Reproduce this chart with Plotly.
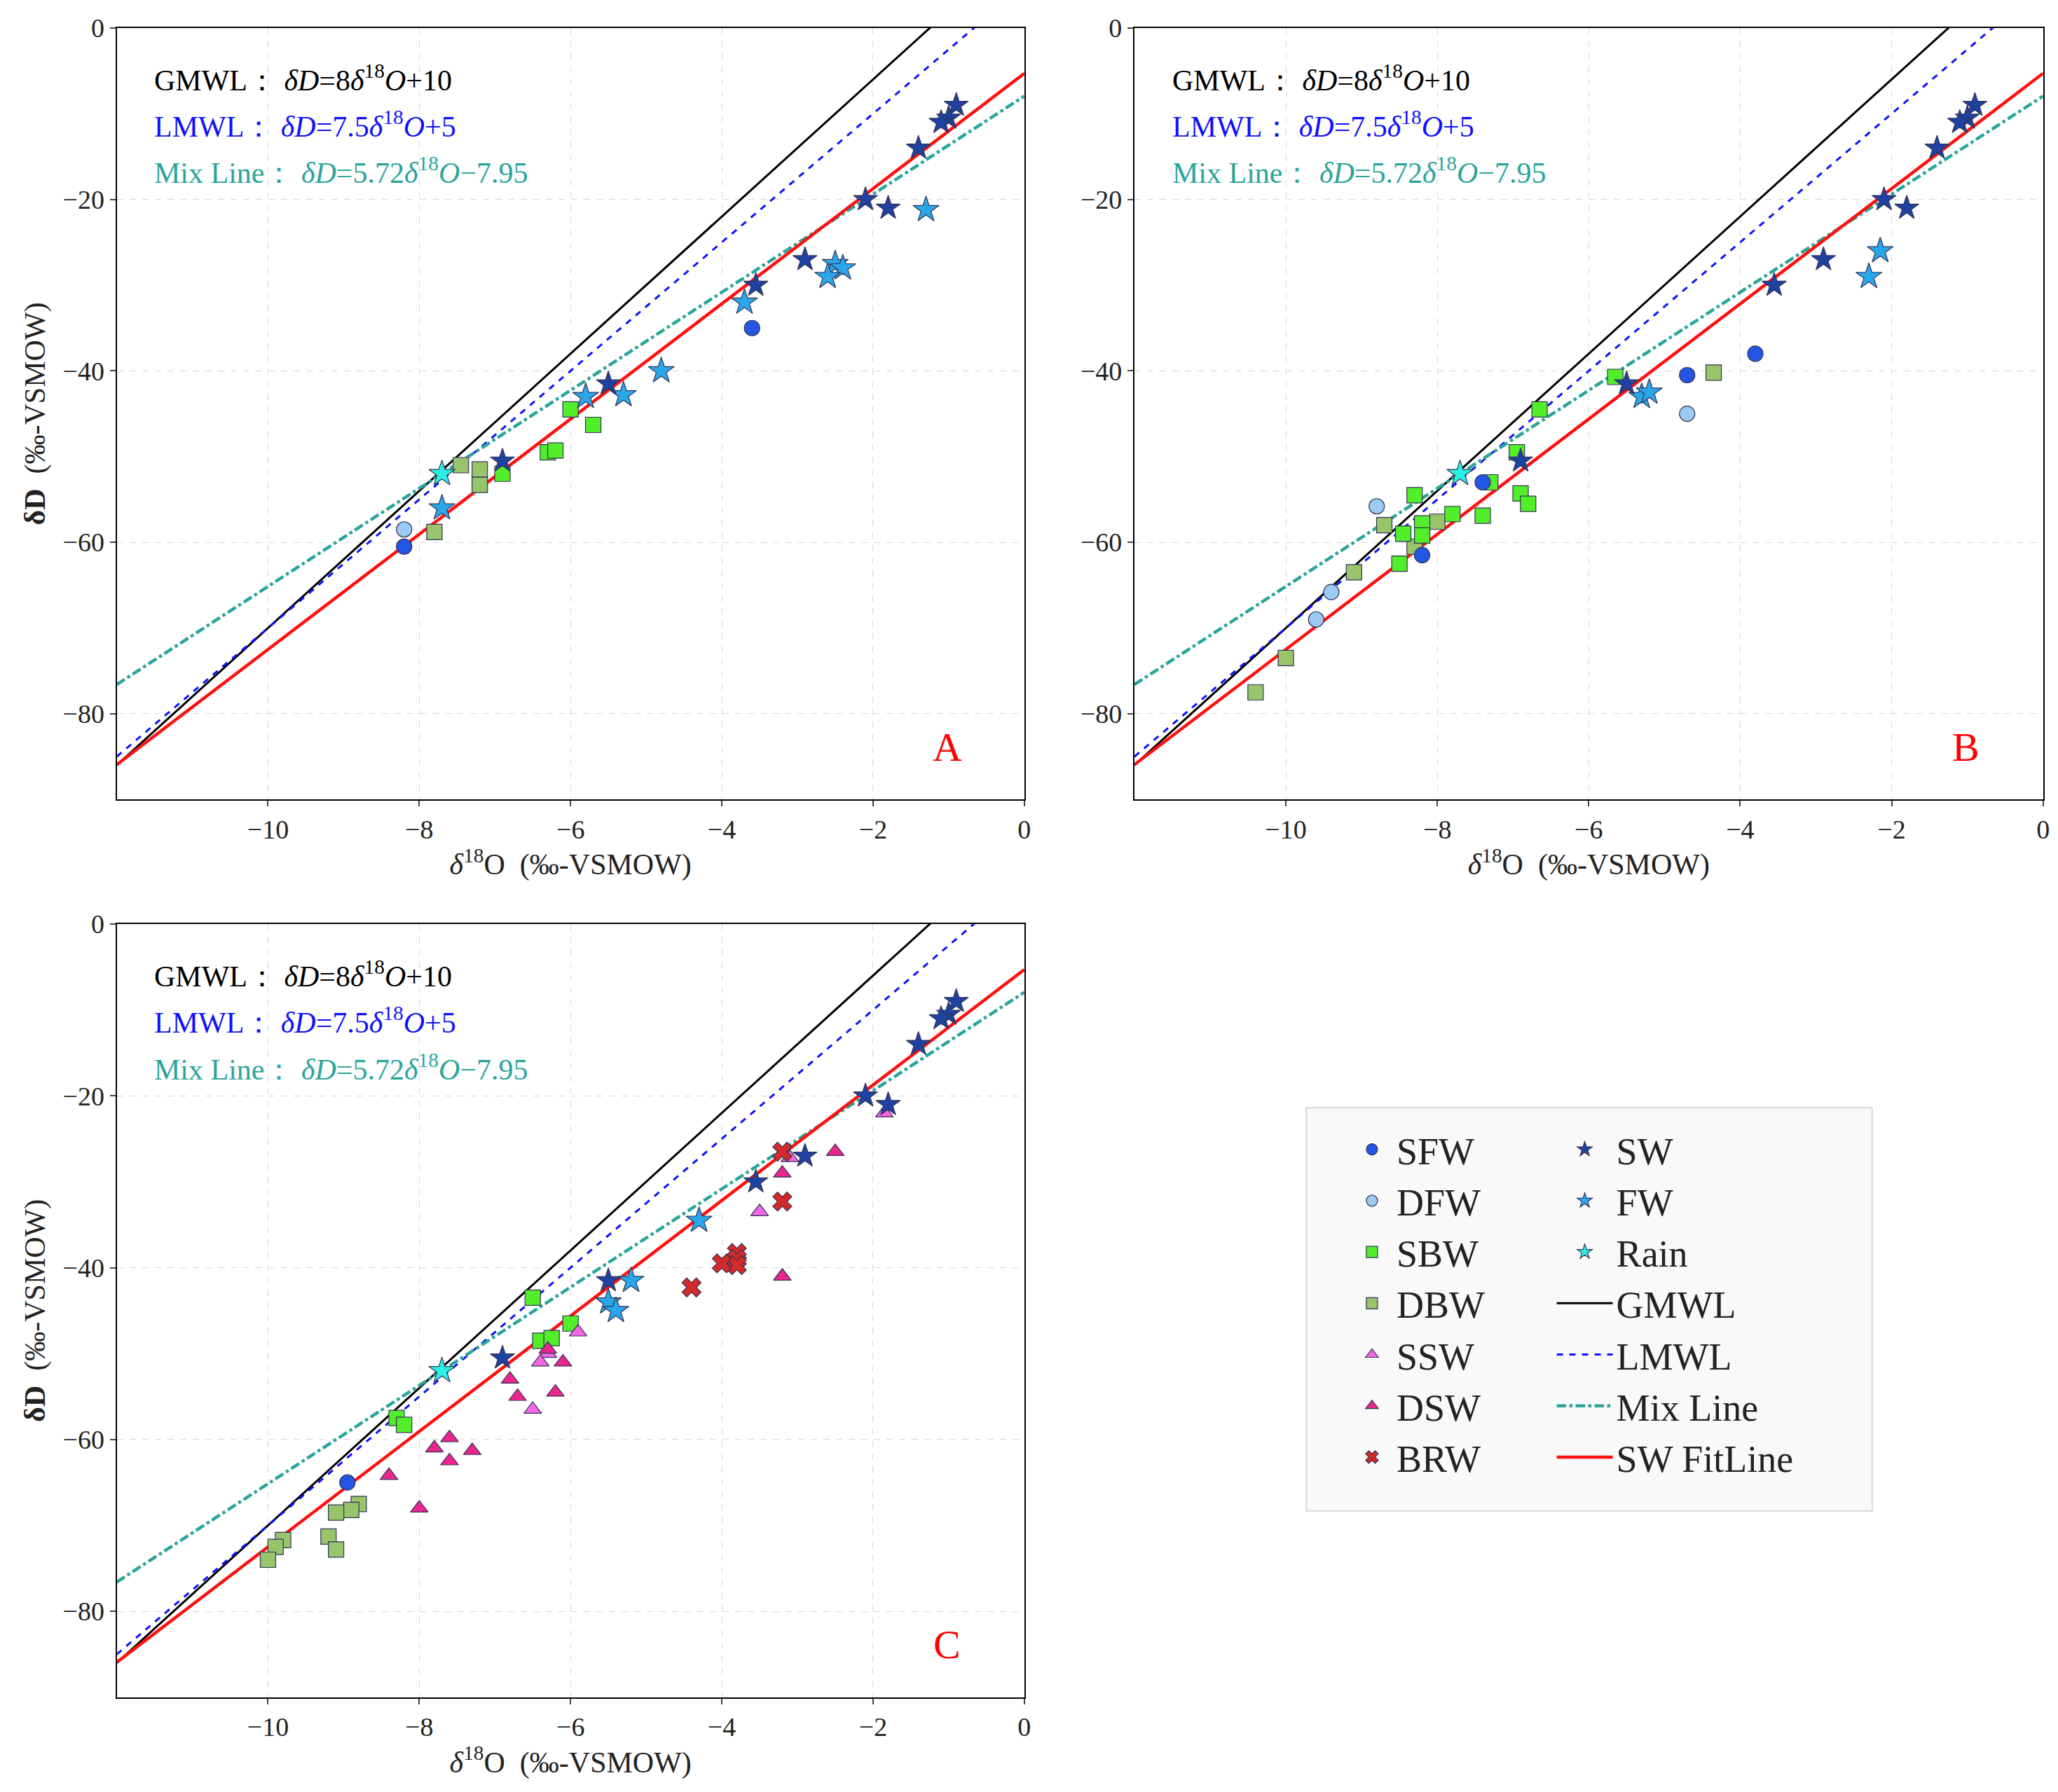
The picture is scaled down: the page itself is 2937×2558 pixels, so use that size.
import numpy as np
import plotly.graph_objects as go
from plotly.subplots import make_subplots

# marker styles: name -> (symbol, fill colour, size)
styles = {
    "SFW": ("circle", "#2456e6", 22),
    "DFW": ("circle", "#9ccaf2", 22),
    "SBW": ("square", "#52ee2a", 22),
    "DBW": ("square", "#98c46c", 22),
    "SSW": ("triangle-up", "#f466e4", 22),
    "DSW": ("triangle-up", "#e8268e", 22),
    "BRW": ("x", "#d42a2a", 24),
    "SW": ("star", "#1f41a0", 26),
    "FW": ("star", "#2aa6ea", 28),
    "Rain": ("star", "#2af0e4", 28),
}

sw = [(-0.9, -9), (-1.0, -10.5), (-1.1, -11), (-1.4, -14), (-2.1, -20), (-1.8, -21),
      (-2.9, -27), (-3.55, -30), (-5.5, -41.5), (-6.9, -50.5)]

panelA = {
    "SW": sw,
    "FW": [(-1.3, -21.2), (-2.5, -27.5), (-2.4, -28), (-2.6, -29), (-3.7, -32), (-4.8, -40),
           (-5.8, -43), (-5.3, -42.8), (-7.7, -56)],
    "Rain": [(-7.7, -52)],
    "SFW": [(-3.6, -35), (-8.2, -60.5)],
    "DFW": [(-8.2, -58.5)],
    "SBW": [(-6.0, -44.5), (-5.7, -46.3), (-6.3, -49.5), (-6.2, -49.3), (-6.9, -52)],
    "DBW": [(-7.45, -51), (-7.2, -51.5), (-7.2, -53.3), (-7.8, -58.8)],
}

panelB = {
    "SW": sw,
    "FW": [(-2.15, -26), (-2.3, -29), (-5.3, -43), (-5.2, -42.5)],
    "Rain": [(-7.7, -52)],
    "SFW": [(-3.8, -38), (-4.7, -40.5), (-7.4, -53), (-8.2, -61.5)],
    "DFW": [(-4.7, -45), (-8.8, -55.8), (-9.4, -65.8), (-9.6, -69)],
    "SBW": [(-5.65, -40.7), (-6.65, -44.5), (-6.95, -49.5), (-7.3, -53), (-8.3, -54.5),
            (-6.9, -54.3), (-6.8, -55.5), (-7.8, -56.7), (-7.4, -56.9), (-8.2, -57.8),
            (-8.45, -59), (-8.2, -59.2), (-8.5, -62.5)],
    "DBW": [(-4.35, -40.2), (-8.7, -58), (-8.0, -57.6), (-8.3, -60.5), (-9.1, -63.5),
            (-10.0, -73.5), (-10.4, -77.5)],
}

panelC = {
    "SW": sw,
    "FW": [(-4.3, -34.5), (-5.2, -41.5), (-5.5, -44), (-5.4, -45)],
    "Rain": [(-7.7, -52)],
    "SFW": [(-8.95, -65)],
    "SBW": [(-6.5, -43.5), (-6.0, -46.5), (-6.4, -48.5), (-6.25, -48.2), (-8.3, -57.5), (-8.2, -58.3)],
    "DBW": [(-8.8, -67.5), (-8.9, -68.2), (-9.1, -68.5), (-9.8, -71.7), (-9.9, -72.5),
            (-9.2, -71.3), (-9.1, -72.8), (-10.0, -74)],
    "SSW": [(-1.85, -22), (-3.1, -27.2), (-3.5, -33.5), (-5.9, -47.5), (-6.3, -50), (-6.4, -51),
            (-6.5, -56.5)],
    "DSW": [(-2.5, -26.5), (-3.2, -29), (-3.2, -41), (-6.3, -49.5), (-6.1, -51), (-6.8, -53),
            (-6.7, -55), (-6.2, -54.5), (-7.6, -59.8), (-7.8, -61), (-7.6, -62.5), (-7.3, -61.3),
            (-8.4, -64.2), (-8.0, -68)],
    "BRW": [(-3.2, -26.5), (-3.2, -32.3), (-3.8, -38.3), (-3.8, -39), (-3.8, -39.7),
            (-4.0, -39.5), (-4.4, -42.3)],
}

lines = [
    ("GMWL", 8, 10, dict(color="black", width=3)),
    ("LMWL", 7.5, 5, dict(color="#1010ff", width=3, dash="dash")),
    ("Mix Line", 5.72, -7.95, dict(color="#2aa59a", width=4.5, dash="dashdot")),
    ("SW FitLine", 6.72, -5.3, dict(color="#ff1010", width=4.5)),
]

fig = make_subplots(rows=2, cols=2, horizontal_spacing=0.05, vertical_spacing=0.07)
fig.update_layout(
    xaxis=dict(domain=[0.054, 0.495]), xaxis2=dict(domain=[0.5485, 0.990]),
    xaxis3=dict(domain=[0.054, 0.495]),
    yaxis=dict(domain=[0.557, 0.9875]), yaxis2=dict(domain=[0.557, 0.9875]),
    yaxis3=dict(domain=[0.056, 0.4875]),
)

xx = np.array([-12, 0])
left_col = ["SFW", "DFW", "SBW", "DBW", "SSW", "DSW", "BRW"]
right_col = ["SW", "FW", "Rain"]
shown = set()

for (r, c), panel in zip([(1, 1), (1, 2), (2, 1)], [panelA, panelB, panelC]):
    for name, slope, icpt, ln in lines:
        fig.add_trace(go.Scatter(x=xx, y=slope * xx + icpt, mode="lines", line=ln, name=name,
                                 showlegend=name not in shown, legend="legend2", legendrank=10),
                      row=r, col=c)
        shown.add(name)
    for name in ["DBW", "SBW", "DFW", "SFW", "SSW", "DSW", "BRW", "FW", "SW", "Rain"]:
        if name not in panel:
            continue
        sym, col, size = styles[name]
        pts = np.array(panel[name])
        fig.add_trace(go.Scatter(
            x=pts[:, 0], y=pts[:, 1], mode="markers", name=name, showlegend=name not in shown,
            legend="legend" if name in left_col else "legend2",
            legendrank=(left_col + right_col).index(name),
            marker=dict(symbol=sym, color=col, size=size, line=dict(color="#333355", width=1.2))),
            row=r, col=c)
        shown.add(name)

font = "Liberation Serif"
axis_common = dict(range=[-12, 0], tickvals=[-10, -8, -6, -4, -2, 0], showline=True, mirror=True,
                   linecolor="black", linewidth=2, ticks="outside", ticklen=8, tickwidth=2,
                   showgrid=True, gridcolor="#d6d6d6", griddash="dash", zeroline=False,
                   automargin=False, tickfont=dict(size=38, family=font, color="#222"))
fig.update_xaxes(**axis_common)
fig.update_yaxes(**{**axis_common, "range": [-90, 0], "tickvals": [0, -20, -40, -60, -80]})

xtitle = "<i>δ</i><sup>18</sup>O  (‰-VSMOW)"
ytitle = "<b>δD</b>  (‰-VSMOW)"
tf = dict(size=42, family=font, color="#222")
for i in [1, 2, 3]:
    fig.update_xaxes(title=dict(text=xtitle, font=tf, standoff=6), row=(i - 1) // 2 + 1, col=(i - 1) % 2 + 1)
fig.update_yaxes(title=dict(text=ytitle, font=tf, standoff=12), row=1, col=1)
fig.update_yaxes(title=dict(text=ytitle, font=tf, standoff=12), row=2, col=1)

eqs = [
    ("GMWL： <i>δD</i>=8<i>δ</i><sup>18</sup><i>O</i>+10", "black", 0.935),
    ("LMWL： <i>δD</i>=7.5<i>δ</i><sup>18</sup><i>O</i>+5", "#1010ff", 0.875),
    ("Mix Line： <i>δD</i>=5.72<i>δ</i><sup>18</sup><i>O</i>−7.95", "#2aa59a", 0.815),
]
for ax, letter in [("", "A"), ("2", "B"), ("3", "C")]:
    for text, col, yy in eqs:
        fig.add_annotation(text=text, xref=f"x{ax} domain", yref=f"y{ax} domain", x=0.04, y=yy,
                           xanchor="left", yanchor="middle", showarrow=False,
                           font=dict(size=42, family=font, color=col))
    fig.add_annotation(text=letter, xref=f"x{ax} domain", yref=f"y{ax} domain", x=0.915, y=0.068,
                       xanchor="center", yanchor="middle", showarrow=False,
                       font=dict(size=58, family=font, color="red"))

# legend box
fig.add_shape(type="rect", xref="paper", yref="paper", x0=0.632, x1=0.907, y0=0.16, y1=0.385,
              fillcolor="#f9f9f9", line=dict(color="#d8d8d8", width=2), layer="below")
lf = dict(size=54, family=font, color="#222")
fig.update_layout(
    legend=dict(x=0.652, y=0.378, xanchor="left", yanchor="top", font=lf, bgcolor="rgba(0,0,0,0)",
                tracegroupgap=0, itemwidth=60),
    legend2=dict(x=0.752, y=0.378, xanchor="left", yanchor="top", font=lf, bgcolor="rgba(0,0,0,0)",
                 tracegroupgap=0, itemwidth=80),
    width=2937, height=2558, plot_bgcolor="white", paper_bgcolor="white",
    margin=dict(l=0, r=0, t=0, b=0),
)

fig.write_html("out.html")
